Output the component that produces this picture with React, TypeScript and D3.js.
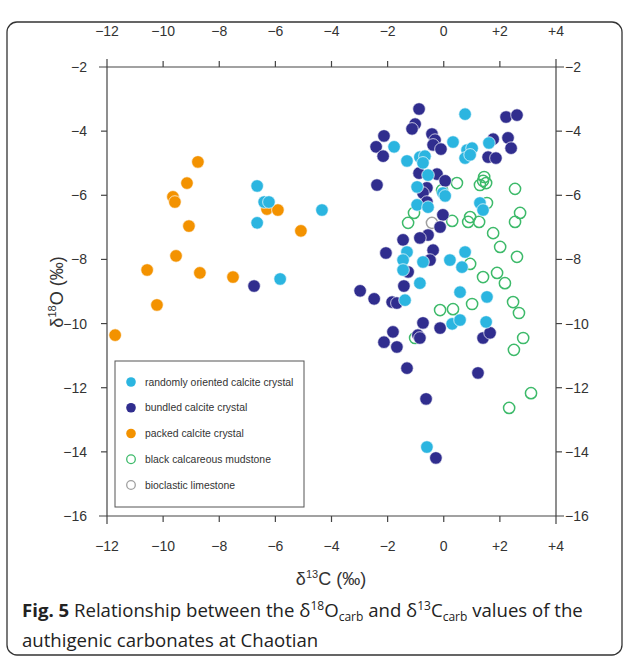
import * as d3 from 'd3';
import React from 'react';

// δ13C (x), δ18O (y) pairs per facies
const randomOriented: [number, number][] = [
  [0.76, -3.47], [-1.77, -4.49], [0.33, -4.34], [-1.31, -4.93], [-0.85, -4.81], [-0.67, -4.78],
  [-0.74, -4.99], [0.83, -4.59], [1.01, -4.53], [0.76, -4.84], [0.94, -4.74], [1.61, -4.37],
  [-0.56, -5.37], [-0.95, -5.74], [-0.03, -5.93], [0.05, -6.02], [-0.95, -6.3], [-0.56, -6.37],
  [1.29, -6.24], [1.4, -6.46], [-1.31, -7.77], [-1.45, -8.02], [-0.74, -8.08], [-1.45, -8.33],
  [0.22, -8.02], [0.76, -7.77], [0.65, -8.24], [-0.85, -8.74], [-1.38, -9.27], [0.58, -9.02],
  [1.54, -9.17], [0.3, -10.01], [0.58, -9.89], [1.51, -9.95], [-0.6, -13.85],
  [-6.65, -5.71], [-6.4, -6.21], [-6.23, -6.21], [-6.65, -6.86], [-4.34, -6.46], [-5.83, -8.61],
];

const bundled: [number, number][] = [
  [-0.88, -3.31], [-1.02, -3.78], [-1.13, -3.93], [-2.13, -4.15], [-2.41, -4.49], [-2.16, -4.78],
  [-0.42, -4.09], [-0.31, -4.28], [-0.38, -4.43], [-0.1, -4.56], [2.22, -3.56], [2.61, -3.5],
  [1.76, -4.25], [2.29, -4.21], [2.4, -4.53], [1.58, -4.81], [1.86, -4.84], [-0.88, -5.31],
  [-0.24, -5.34], [0.05, -5.55], [-2.38, -5.68], [-0.6, -5.77], [-0.74, -5.93], [-0.6, -6.21],
  [-0.03, -6.61], [-0.13, -6.99], [-0.56, -7.24], [-0.85, -7.33], [-1.45, -7.39], [-2.06, -7.8],
  [-0.38, -7.71], [-0.49, -8.02], [-1.27, -8.39], [-1.42, -8.83], [-2.98, -8.98], [-2.48, -9.23],
  [-1.84, -9.33], [-1.67, -9.36], [-0.74, -9.98], [-0.13, -10.14], [-1.81, -10.26], [-2.13, -10.58],
  [-1.67, -10.73], [-0.92, -10.36], [-0.85, -10.45], [-1.31, -11.39], [1.4, -10.45], [1.65, -10.29],
  [1.22, -11.54], [-0.63, -12.35], [-0.28, -14.19], [-6.76, -8.83],
];

const packed: [number, number][] = [
  [-8.76, -4.96], [-9.15, -5.62], [-9.65, -6.05], [-9.58, -6.21], [-9.08, -6.96], [-6.3, -6.43],
  [-5.91, -6.46], [-5.09, -7.11], [-9.54, -7.89], [-10.57, -8.33], [-8.69, -8.42], [-7.51, -8.55],
  [-10.22, -9.42], [-11.71, -10.36],
];

const mudstone: [number, number][] = [
  [0.47, -5.62], [1.44, -5.43], [1.4, -5.55], [1.29, -5.68], [1.51, -5.62], [2.54, -5.8],
  [-0.06, -5.84], [1.54, -6.24], [2.72, -6.55], [2.54, -6.83], [-1.27, -6.86], [-1.06, -6.55],
  [0.3, -6.8], [0.94, -6.68], [0.87, -6.83], [1.26, -6.83], [1.76, -7.18], [2.01, -7.61],
  [2.61, -7.92], [0.94, -8.14], [1.9, -8.42], [1.4, -8.55], [2.18, -8.74], [-0.13, -9.58],
  [0.33, -9.55], [1.01, -9.39], [2.47, -9.33], [2.68, -9.67], [2.83, -10.45], [2.5, -10.82],
  [-1.02, -10.45], [3.11, -12.17], [2.33, -12.63],
];

const bioclastic: [number, number][] = [[-0.42, -6.86]];

const xTicks = [-12, -10, -8, -6, -4, -2, 0, 2, 4];
const yTicks = [-2, -4, -6, -8, -10, -12, -14, -16];

const legendLabels = [
  'randomly oriented calcite crystal',
  'bundled calcite crystal',
  'packed calcite crystal',
  'black calcareous mudstone',
  'bioclastic limestone',
];

const CYAN = '#2bb5e0';
const NAVY = '#302d8e';
const ORANGE = '#f39200';
const GREEN = '#3dba6a';
const GREY = '#a0a0a0';

const W = 626;
const H = 661;
const left = 107, right = 556, top = 67, bottom = 516;

const fmtX = (v: number) => (v > 0 ? `+${v}` : v < 0 ? `\u2212${Math.abs(v)}` : '0');
const fmtY = (v: number) => (v < 0 ? `\u2212${Math.abs(v)}` : `${v}`);

export default function App() {
  const x = d3.scaleLinear().domain([-12, 4]).range([left, right]);
  const y = d3.scaleLinear().domain([-2, -16]).range([top, bottom]);
  const tick = 6;
  const ext = 8;
  const axisColor = '#444';
  const labelFont = "'Liberation Sans', Arial, sans-serif";

  const filled = (data: [number, number][], color: string, key: string) =>
    data.map((d, i) => (
      <circle key={key + i} cx={x(d[0])} cy={y(d[1])} r={6.3} fill={color} stroke="#fff" strokeWidth={0.7} />
    ));
  const open = (data: [number, number][], color: string, key: string) =>
    data.map((d, i) => (
      <circle key={key + i} cx={x(d[0])} cy={y(d[1])} r={5.6} fill="none" stroke={color} strokeWidth={1.5} />
    ));

  const legendColors = [CYAN, NAVY, ORANGE, GREEN, GREY];
  const legendY = d3.scaleLinear().domain([0, 4]).range([382, 485]);

  return (
    <svg width={W} height={H} style={{ position: 'absolute', left: 0, top: 0, background: '#fff' }}>
      <rect x={7} y={22} width={615} height={633} rx={10} fill="#fff" stroke="#333" strokeWidth={1.3} />

      {/* frame lines, extending past the corners */}
      <g stroke={axisColor} strokeWidth={1.2}>
        <line x1={left - ext} x2={right + ext} y1={top} y2={top} />
        <line x1={left - ext} x2={right + ext} y1={bottom} y2={bottom} />
        <line x1={left} x2={left} y1={top - ext} y2={bottom + ext} />
        <line x1={right} x2={right} y1={top - ext} y2={bottom + ext} />
        {xTicks.slice(1, -1).map((t) => (
          <g key={'xt' + t}>
            <line x1={x(t)} x2={x(t)} y1={top} y2={top - tick} />
            <line x1={x(t)} x2={x(t)} y1={bottom} y2={bottom + tick} />
          </g>
        ))}
        {yTicks.slice(1, -1).map((t) => (
          <g key={'yt' + t}>
            <line x1={left} x2={left - tick} y1={y(t)} y2={y(t)} />
            <line x1={right} x2={right + tick} y1={y(t)} y2={y(t)} />
          </g>
        ))}
      </g>

      <g fontFamily={labelFont} fontSize={14} fill="#333">
        {xTicks.map((t) => (
          <g key={'xl' + t}>
            <text x={x(t)} y={36} textAnchor="middle">{fmtX(t)}</text>
            <text x={x(t)} y={551} textAnchor="middle">{fmtX(t)}</text>
          </g>
        ))}
        {yTicks.map((t) => (
          <g key={'yl' + t}>
            <text x={87} y={y(t) + 5} textAnchor="end">{fmtY(t)}</text>
            <text x={565} y={y(t) + 5} textAnchor="start">{fmtY(t)}</text>
          </g>
        ))}
      </g>

      <text x={331} y={585} textAnchor="middle" fontFamily={labelFont} fontSize={18} fill="#333">
        δ<tspan fontSize={11} dy={-7}>13</tspan><tspan dy={7}>C (‰)</tspan>
      </text>
      <text transform={`translate(63,292) rotate(-90)`} textAnchor="middle" fontFamily={labelFont} fontSize={18} fill="#333">
        δ<tspan fontSize={11} dy={-7}>18</tspan><tspan dy={7}>O (‰)</tspan>
      </text>

      {open(mudstone, GREEN, 'm')}
      {open(bioclastic, GREY, 'b')}
      {filled(packed, ORANGE, 'p')}
      {filled(bundled, NAVY, 'n')}
      {filled(randomOriented, CYAN, 'c')}

      <rect x={115} y={361} width={189} height={146} fill="#fff" stroke="#555" strokeWidth={1} />
      {legendLabels.map((l, i) => (
        <g key={'lg' + i}>
          {i < 3 ? (
            <circle cx={131} cy={legendY(i)} r={4.8} fill={legendColors[i]} />
          ) : (
            <circle cx={131} cy={legendY(i)} r={4.3} fill="none" stroke={legendColors[i]} strokeWidth={1.3} />
          )}
          <text x={145} y={legendY(i) + 3.5} fontFamily={labelFont} fontSize={10.4} fill="#333">{l}</text>
        </g>
      ))}

      <g fontFamily="'Open Sans', 'Noto Sans', sans-serif" fontSize={18.6} fill="#222">
        <text x={22} y={617}>
          <tspan fontWeight="bold">Fig. 5</tspan> Relationship between the δ
          <tspan fontSize={12} dy={-7}>18</tspan>
          <tspan dy={7}>O</tspan>
          <tspan fontSize={12} dy={4}>carb</tspan>
          <tspan dy={-4}> and δ</tspan>
          <tspan fontSize={12} dy={-7}>13</tspan>
          <tspan dy={7}>C</tspan>
          <tspan fontSize={12} dy={4}>carb</tspan>
          <tspan dy={-4}> values of the</tspan>
        </text>
        <text x={22} y={647}>authigenic carbonates at Chaotian</text>
      </g>
    </svg>
  );
}
